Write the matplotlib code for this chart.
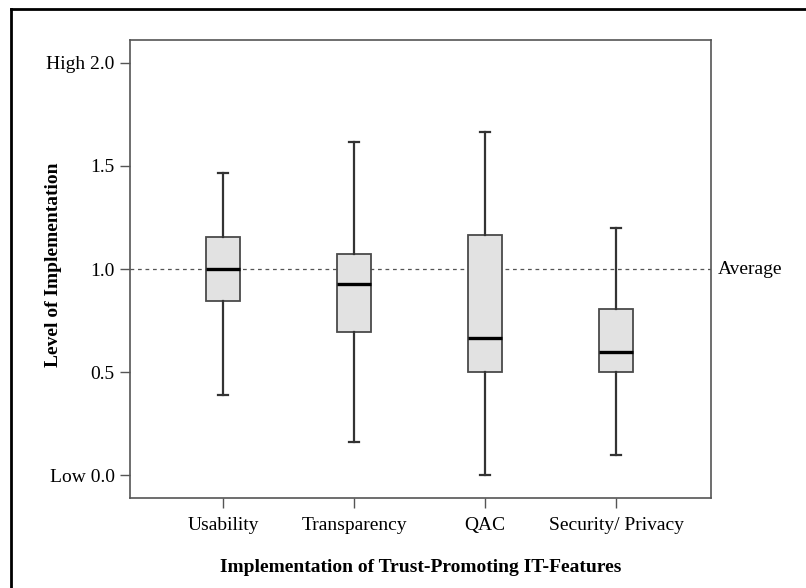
import matplotlib
matplotlib.use("Agg")
import matplotlib.pyplot as plt
from matplotlib.lines import Line2D

plt.rcParams['font.family'] = ['Liberation Serif', 'DejaVu Serif']

# box statistics
features = ["Usability", "Transparency", "QAC", "Security/ Privacy"]
whisker_low = [0.39, 0.16, 0.00, 0.10]
q1 = [0.845, 0.695, 0.50, 0.50]
median = [1.00, 0.925, 0.665, 0.60]
q3 = [1.155, 1.075, 1.165, 0.805]
whisker_high = [1.465, 1.615, 1.665, 1.20]

ytick_vals = [0.0, 0.5, 1.0, 1.5, 2.0]
ytick_labels = ["Low 0.0", "0.5", "1.0", "1.5", "High 2.0"]
average = 1.0

stats = []
for i in range(len(features)):
    stats.append(dict(label=features[i], whislo=whisker_low[i], q1=q1[i],
                      med=median[i], q3=q3[i], whishi=whisker_high[i], fliers=[]))

fig = plt.figure(figsize=(8.06, 5.88), dpi=100)
ax = fig.add_axes([0.1613, 0.153, 0.7208, 0.779])

pos = [1, 2, 3, 4]
ax.bxp(stats, positions=pos, widths=0.26, showfliers=False, patch_artist=True,
       boxprops=dict(facecolor="#e2e2e2", edgecolor="#4a4a4a", linewidth=1.3),
       medianprops=dict(color="black", linewidth=2.4),
       whiskerprops=dict(color="#333333", linewidth=1.6),
       capprops=dict(color="#333333", linewidth=1.6),
       capwidths=0.08)

ax.axhline(average, color="#555555", linestyle=(0, (3, 3)), linewidth=0.9, zorder=0)
ax.text(1.012, average, "Average", transform=ax.get_yaxis_transform(),
        va="center", ha="left", fontsize=14)

ax.set_xlim(0.29, 4.725)
ax.set_ylim(-0.11, 2.11)
ax.set_yticks(ytick_vals)
ax.set_yticklabels(ytick_labels, fontsize=14)
ax.set_xticks(pos)
ax.set_xticklabels(features, fontsize=14)
ax.tick_params(direction="out", length=7, width=1.0, color="#555555", pad=4)
ax.tick_params(axis="x", pad=7)

for s in ax.spines.values():
    s.set_color("#555555")
    s.set_linewidth(1.2)

ax.set_ylabel("Level of Implementation", fontsize=14, fontweight="bold")
ax.yaxis.set_label_coords(-0.117, 0.509)
ax.set_xlabel("Implementation of Trust-Promoting IT-Features", fontsize=14,
              fontweight="bold", labelpad=18)

# outer frame (left and top edges visible)
fig.add_artist(Line2D([11 / 806, 11 / 806], [0, 1 - 9 / 588], color="black",
                      linewidth=2, transform=fig.transFigure))
fig.add_artist(Line2D([11 / 806, 1], [1 - 9 / 588, 1 - 9 / 588], color="black",
                      linewidth=2, transform=fig.transFigure))

fig.savefig("out.png", dpi=100)
